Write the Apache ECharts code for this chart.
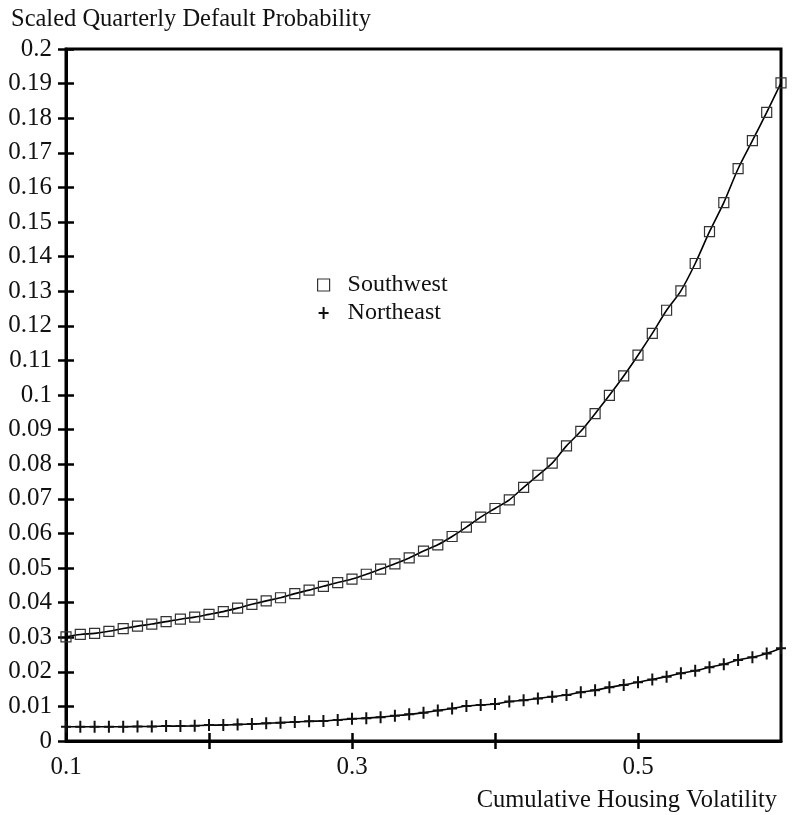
<!DOCTYPE html>
<html>
<head>
<meta charset="utf-8">
<script src="https://cdn.jsdelivr.net/npm/echarts@6/dist/echarts.min.js"></script>
<style>html,body{margin:0;padding:0;background:#fff}#c{width:792px;height:815px}</style>
</head>
<body>
<div id="c"></div>
<script>
const xValues = [0.10,0.11,0.12,0.13,0.14,0.15,0.16,0.17,0.18,0.19,
  0.20,0.21,0.22,0.23,0.24,0.25,0.26,0.27,0.28,0.29,
  0.30,0.31,0.32,0.33,0.34,0.35,0.36,0.37,0.38,0.39,
  0.40,0.41,0.42,0.43,0.44,0.45,0.46,0.47,0.48,0.49,
  0.50,0.51,0.52,0.53,0.54,0.55,0.56,0.57,0.58,0.59,0.60];
const southwest = [0.0301,0.0308,0.0311,0.0317,0.0325,0.0332,0.0338,0.0345,0.0352,0.0358,
  0.0366,0.0374,0.0384,0.0395,0.0405,0.0414,0.0426,0.0436,0.0447,0.0458,
  0.0468,0.0482,0.0497,0.0512,0.0529,0.0549,0.0567,0.0591,0.0618,0.0647,
  0.0672,0.0697,0.0733,0.0768,0.0803,0.0853,0.0895,0.0946,0.0999,0.1055,
  0.1115,0.1178,0.1245,0.1301,0.1380,0.1472,0.1556,0.1654,0.1735,0.1817,0.1902];
const northeast = [0.0041,0.0041,0.0041,0.0041,0.0041,0.0042,0.0042,0.0043,0.0043,0.0044,
  0.0046,0.0046,0.0048,0.0049,0.0051,0.0053,0.0055,0.0057,0.0058,0.0061,
  0.0064,0.0066,0.0069,0.0073,0.0077,0.0082,0.0088,0.0094,0.0101,0.0104,
  0.0107,0.0114,0.0118,0.0123,0.0128,0.0133,0.0141,0.0147,0.0155,0.0162,
  0.0170,0.0178,0.0186,0.0196,0.0203,0.0213,0.0222,0.0234,0.0242,0.0253,0.0268];
const xTickValues = [0.2,0.3,0.4,0.5];
const xLabelValues = [0.1,0.3,0.5];
const xLabelTexts = ['0.1','0.3','0.5'];
const yTickLabels = ['0','0.01','0.02','0.03','0.04','0.05','0.06','0.07','0.08','0.09','0.1',
  '0.11','0.12','0.13','0.14','0.15','0.16','0.17','0.18','0.19','0.2'];
const seriesNames = ['Southwest','Northeast'];
const titleText = 'Scaled Quarterly Default Probability';
const xAxisTitle = 'Cumulative Housing Volatility';

const FONT = '"Liberation Serif", "Times New Roman", serif';
const plusPath = 'path://M4,0H6V5H10V7H6V12H4V7H0V5H4Z';

const chart = echarts.init(document.getElementById('c'), null, {renderer: 'canvas'});
const pair = (xs, ys) => xs.map((x, i) => [x, ys[i]]);

chart.setOption({
  animation: false,
  backgroundColor: '#fff',
  title: [
    {text: titleText, left: 6, top: 2, textStyle: {fontFamily: FONT, fontSize: 24.5, fontWeight: 'normal', color: '#111'}},
    {text: xAxisTitle, right: 10, top: 783, textStyle: {fontFamily: FONT, fontSize: 24.5, fontWeight: 'normal', color: '#111'}}
  ],
  legend: {
    orient: 'vertical', left: 312, top: 268, itemGap: 4, itemWidth: 12, itemHeight: 12,
    selectedMode: false,
    lineStyle: {opacity: 0},
    textStyle: {fontFamily: FONT, fontSize: 24, color: '#111', padding: [0, 0, 0, 13]},
    data: [
      {name: seriesNames[0], icon: 'rect', itemStyle: {color: 'rgba(0,0,0,0)', borderColor: '#333', borderWidth: 1.2}},
      {name: seriesNames[1], icon: plusPath, itemStyle: {color: '#111', borderWidth: 0}}
    ]
  },
  grid: {left: 66, right: 11, top: 49, bottom: 74, show: true, borderColor: '#000', borderWidth: 3, backgroundColor: 'transparent'},
  xAxis: [
    {
      type: 'value', min: 0.1, max: 0.6, interval: 0.1, position: 'bottom',
      axisLine: {lineStyle: {color: '#000', width: 3}},
      axisTick: {show: true, inside: false, length: 8, lineStyle: {color: '#000', width: 2.5}, customValues: xTickValues},
      axisLabel: {
        show: true, margin: 14, fontFamily: FONT, fontSize: 25, color: '#111',
        customValues: xLabelValues,
        formatter: v => { const i = xLabelValues.findIndex(t => Math.abs(t - v) < 1e-9); return i >= 0 ? xLabelTexts[i] : ''; }
      },
      splitLine: {show: false}
    },
    {
      type: 'value', min: 0.1, max: 0.6, interval: 0.1, position: 'bottom', offset: 0,
      axisLine: {show: false},
      axisTick: {show: true, inside: true, length: 8, lineStyle: {color: '#000', width: 2.5}, customValues: xTickValues},
      axisLabel: {show: false},
      splitLine: {show: false}
    }
  ],
  yAxis: [
    {
      type: 'value', min: 0, max: 0.2, interval: 0.01, position: 'left',
      axisLine: {show: true, lineStyle: {color: '#000', width: 3}},
      axisTick: {show: true, inside: false, length: 8, lineStyle: {color: '#000', width: 2.5}},
      axisLabel: {
        margin: 14, fontFamily: FONT, fontSize: 25, color: '#111',
        formatter: v => yTickLabels[Math.round(v * 100)]
      },
      splitLine: {show: false}
    },
    {
      type: 'value', min: 0, max: 0.2, interval: 0.01, position: 'left', offset: 0,
      axisLine: {show: false},
      axisTick: {show: true, inside: true, length: 8, lineStyle: {color: '#000', width: 2.5}},
      axisLabel: {show: false},
      splitLine: {show: false}
    }
  ],
  series: [
    {
      name: seriesNames[0], type: 'line', data: pair(xValues, southwest),
      smooth: 0.3, clip: false,
      symbol: 'rect', symbolSize: 10,
      lineStyle: {color: '#000', width: 1.6},
      itemStyle: {color: 'rgba(0,0,0,0)', borderColor: '#333', borderWidth: 1.2},
      emphasis: {disabled: true}, z: 3
    },
    {
      name: seriesNames[1], type: 'line', data: pair(xValues, northeast),
      smooth: 0.3, clip: false,
      symbol: plusPath, symbolSize: [10, 12],
      lineStyle: {color: '#000', width: 1.6},
      itemStyle: {color: '#111', borderWidth: 0},
      emphasis: {disabled: true}, z: 3
    }
  ]
});
</script>
</body>
</html>
